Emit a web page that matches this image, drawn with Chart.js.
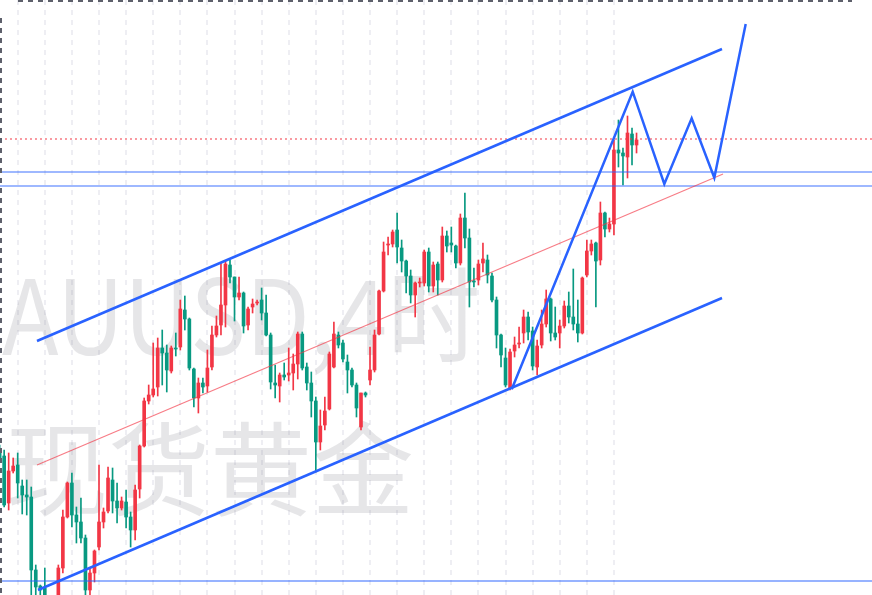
<!DOCTYPE html>
<html>
<head>
<meta charset="utf-8">
<script src="https://cdn.jsdelivr.net/npm/chart.js@4.4.1/dist/chart.umd.min.js"></script>
<style>
  html, body { margin: 0; padding: 0; background: #ffffff; }
  #wrap { width: 872px; height: 595px; position: relative; }
</style>
</head>
<body>
<div id="wrap"><canvas id="chart"></canvas></div>
<script>
// ── 4H candles (price units) ──
const candleOpen = [
  2409.6, 2408.8, 2399.4, 2405.8, 2407, 2402.8, 2401, 2400.6, 2386, 2382.8,
  2382.4, 2380, 2377.6, 2380, 2386.4, 2396.6, 2403.4, 2397, 2395.6, 2392.4,
  2382, 2385.4, 2390.6, 2395.6, 2397.8, 2404, 2399.8, 2398.4, 2399.6, 2396.6,
  2394, 2402.2, 2410.8, 2419.8, 2421, 2422.6, 2430.4, 2429.4, 2425.8, 2430.4,
  2430.6, 2438, 2436.2, 2426.2, 2420.4, 2423.4, 2422.8, 2426.6, 2433, 2435,
  2439, 2447, 2444.6, 2440.6, 2441.4, 2435, 2438.6, 2439.4, 2440, 2437.4,
  2433, 2423.4, 2422.8, 2425, 2425, 2425.4, 2427.2, 2433.2, 2426.6, 2423.4,
  2419.8, 2411.6, 2415, 2418.2, 2426.6, 2433, 2431.4, 2427.6, 2426, 2423,
  2414.6, 2421.4, 2424, 2426, 2433.2, 2441.8, 2451, 2451.2, 2454, 2450.4,
  2447.8, 2444.8, 2441, 2443.4, 2443.4, 2449.6, 2442.8, 2447.2, 2444, 2452.8,
  2451.4, 2450.8, 2447.4, 2456.4, 2452.4, 2443.8, 2444, 2447.4, 2448, 2444.8,
  2440, 2433, 2428.4, 2422.4, 2429.8, 2431.2, 2433.4, 2436.6, 2433.8, 2426.6,
  2431, 2435.2, 2440.2, 2433.4, 2433.4, 2434.8, 2438.8, 2436.6, 2435.2, 2433.4,
  2445, 2449.8, 2451.4, 2448, 2457.4, 2454.2, 2455.2, 2470, 2469.4, 2468.6,
  2473.2, 2471
];
const candleHigh = [
  2411, 2410, 2409.4, 2408.4, 2409.4, 2404, 2404, 2402.6, 2387, 2383,
  2386.4, 2380.8, 2380.4, 2387, 2398, 2403.6, 2405.4, 2398.6, 2400.4, 2393,
  2386.4, 2390, 2407, 2398.4, 2406.6, 2406.4, 2403.4, 2400.6, 2402, 2397.6,
  2403, 2411, 2420.4, 2423, 2431.4, 2432.4, 2434, 2431, 2430.8, 2433.4,
  2440, 2440.8, 2436.4, 2426.4, 2424.4, 2424.4, 2430, 2434.8, 2436.8, 2447.4,
  2447.8, 2448, 2444.6, 2444.6, 2441.6, 2438.6, 2440.2, 2440, 2442.4, 2441,
  2433.4, 2427, 2425.4, 2427.4, 2430.4, 2429.2, 2433.6, 2433.6, 2427.4, 2425.6,
  2420.6, 2418, 2420.6, 2429.6, 2435.6, 2433.6, 2432, 2429, 2426.4, 2423.4,
  2421.4, 2421.6, 2430.6, 2434, 2442, 2451.6, 2452.6, 2454, 2457.4, 2452,
  2448, 2446, 2443.6, 2444.4, 2450, 2450.4, 2447.6, 2447.6, 2454.6, 2453.8,
  2454.6, 2451, 2457.2, 2461.4, 2454.2, 2446.4, 2448, 2451.4, 2449, 2445.4,
  2440.6, 2433.2, 2430.4, 2430.2, 2432.6, 2434.6, 2438, 2437.6, 2434.6, 2432,
  2438, 2442, 2440.4, 2438.6, 2436, 2439.8, 2441.6, 2446.2, 2440, 2444.6,
  2452, 2452, 2451.6, 2459.6, 2457.6, 2456.4, 2472, 2476, 2470.4, 2476.8,
  2474.4, 2473.4
];
const candleLow = [
  2407.6, 2398.6, 2398, 2405.4, 2400.4, 2397.2, 2397, 2380, 2380, 2380.4,
  2379, 2376.8, 2376, 2379, 2385.4, 2396.4, 2394.6, 2391.4, 2391.4, 2380.4,
  2380.4, 2383.6, 2390, 2394.4, 2397.4, 2397.4, 2395.4, 2398, 2394.4, 2390.6,
  2392, 2400.4, 2410.6, 2419.2, 2420.6, 2420.8, 2423, 2421.6, 2425.4, 2428.8,
  2430, 2434, 2426, 2418.6, 2417.4, 2421.4, 2421.6, 2426, 2432.6, 2433,
  2434.6, 2443.4, 2435.8, 2440, 2433.4, 2434, 2437.4, 2439, 2436, 2432.8,
  2422.2, 2420.4, 2419.6, 2424, 2423.8, 2422, 2424.2, 2426, 2422, 2416.6,
  2405.6, 2410, 2414, 2418, 2426.4, 2430.4, 2427.6, 2421.4, 2422.6, 2416.6,
  2414, 2420.6, 2423, 2425.6, 2433, 2441.6, 2449, 2450.6, 2447.4, 2445.6,
  2441.4, 2439.4, 2436.6, 2442.6, 2442.8, 2441.6, 2441.6, 2441, 2443.6, 2449.6,
  2449.6, 2446.4, 2447, 2450.4, 2438.6, 2442.6, 2443, 2445.6, 2443.4, 2439.6,
  2430.4, 2426.6, 2422.6, 2422, 2428.6, 2430.4, 2431.4, 2432, 2426, 2425,
  2430.4, 2434.6, 2431.8, 2432, 2430.4, 2434.4, 2435.4, 2434, 2431.6, 2433.2,
  2444.6, 2449, 2438.6, 2447, 2452.6, 2453.6, 2453, 2466.6, 2463, 2464.4,
  2467, 2469.4
];
const candleClose = [
  2408, 2399, 2405.8, 2406.8, 2403.4, 2401, 2400.6, 2386, 2382.6, 2382,
  2380, 2377.6, 2380, 2386.4, 2396.6, 2403.4, 2397, 2395.6, 2392.4, 2382,
  2385.4, 2389.8, 2395.6, 2397.6, 2404.4, 2399.8, 2398.4, 2399.8, 2396.6, 2394,
  2402, 2410.8, 2419.8, 2421, 2422.2, 2430.4, 2429.4, 2426, 2430.4, 2430.2,
  2438.2, 2436.2, 2426.4, 2420.4, 2423.4, 2422.6, 2426.4, 2433, 2434.8, 2439,
  2447.2, 2444.6, 2440.6, 2441.4, 2434.8, 2438.2, 2439.2, 2439.6, 2437.4, 2433,
  2423.6, 2423, 2425, 2424.6, 2425.4, 2427.2, 2433.2, 2426.4, 2423.4, 2419.8,
  2411.6, 2414.8, 2417.8, 2429.2, 2433.2, 2431, 2428.2, 2426, 2423, 2418.4,
  2421.4, 2421, 2426, 2433, 2441.8, 2449.6, 2451.2, 2453.6, 2450.6, 2447.8,
  2444.8, 2441, 2443.4, 2443.6, 2449.6, 2442.8, 2447, 2444, 2452.8, 2450.8,
  2451, 2447.4, 2456.4, 2452.4, 2443.6, 2443.6, 2447.2, 2448.2, 2445, 2440,
  2433, 2429, 2423, 2429.6, 2431, 2431.4, 2436.6, 2433.6, 2426.8, 2430.8,
  2435.2, 2440.2, 2433.4, 2432.6, 2434.8, 2438.8, 2436.6, 2435.2, 2433.4, 2444.4,
  2449.8, 2451.2, 2447.8, 2457.4, 2454.2, 2455.2, 2470, 2469.4, 2468.8, 2473.4,
  2471, 2472
];

// ── drawn objects (x in bar index, y in price) ──
const upperChannelX = [8.27, 159.92];
const upperChannelY = [2431.8, 2490.2];
const lowerChannelX = [8.49, 159.92];
const lowerChannelY = [2382, 2440.4];
const midLineX = [8.27, 160.15];
const midLineY = [2407, 2465.2];
const zigzagX = [113.37, 140.15, 147.15, 153.21, 158.22, 165.17];
const zigzagY = [2422.14, 2481.66, 2463.2, 2476.34, 2464.46, 2495.2];
const lastPriceLevel = 2472.2;
const zoneLevels = [2465.6, 2462.8];
const floorLevel = 2383.8;
const dayStartBars = [4, 10, 16, 22, 28, 34, 40, 46, 52, 58, 64, 70, 76, 82, 88, 94, 100, 106, 112, 118, 124, 130, 136];

const X_MIN = 0.082, X_MAX = 193.13;
const Y_MIN = 2381, Y_MAX = 2500;

const UP = '#f23645', DOWN = '#089981', BLUE = '#2962ff';

const bars = candleOpen.map((_, i) => i);
const candleColor = bars.map(i => candleClose[i] >= candleOpen[i] ? UP : DOWN);

const toPoints = (xs, ys) => xs.map((x, k) => ({ x: x, y: ys[k] }));
const level = (y) => [{ x: X_MIN, y: y }, { x: X_MAX, y: y }];

function lineSet(data, color, width, dash) {
    return {
        type: 'line', data: data, borderColor: color, borderWidth: width,
        borderDash: dash || [], pointRadius: 0, tension: 0, fill: false, order: 0
    };
}

// ── background: day separators + watermark ──
const backdrop = {
    id: 'backdrop',
    beforeDatasetsDraw(chart) {
        const ctx = chart.ctx;
        const xs = chart.scales.x;
        ctx.save();
        ctx.strokeStyle = '#eeeef3';
        ctx.lineWidth = 2;
        ctx.setLineDash([5, 5]);
        dayStartBars.forEach(b => {
            const px = Math.round(xs.getPixelForValue(b));
            ctx.beginPath();
            ctx.moveTo(px, 0);
            ctx.lineTo(px, chart.height);
            ctx.stroke();
        });
        ctx.setLineDash([]);
        ctx.fillStyle = 'rgba(120,123,134,0.19)';
        ctx.textBaseline = 'alphabetic';
        // symbol line is a little condensed in the source
        ctx.save();
        ctx.translate(2, 355);
        ctx.scale(0.895, 1);
        ctx.font = '104px "Noto Sans CJK SC", "Noto Sans", sans-serif';
        ctx.fillText('AUUSD,4时', 0, 0);
        ctx.restore();
        ctx.font = '102px "Noto Sans CJK SC", sans-serif';
        ctx.fillText('现货黄金', 6, 508);
        ctx.restore();
    },
    afterDraw(chart) {
        const ctx = chart.ctx;
        ctx.save();
        ctx.strokeStyle = '#5d606b';
        ctx.lineWidth = 2;
        ctx.setLineDash([5, 5]);
        ctx.beginPath();
        ctx.moveTo(1, 18);
        ctx.lineTo(1, chart.height);
        ctx.moveTo(18, 1);
        ctx.lineTo(852, 1);
        ctx.stroke();
        ctx.restore();
    }
};

new Chart(document.getElementById('chart'), {
    type: 'bar',
    data: {
        datasets: [
            lineSet(toPoints(upperChannelX, upperChannelY), BLUE, 2.5),
            lineSet(toPoints(lowerChannelX, lowerChannelY), BLUE, 2.5),
            lineSet(toPoints(zigzagX, zigzagY), BLUE, 2.5),
            lineSet(toPoints(midLineX, midLineY), 'rgba(242,54,69,0.65)', 1.2),
            lineSet(level(lastPriceLevel), UP, 1.2, [2, 3]),
            lineSet(level(zoneLevels[0]), 'rgba(41,98,255,0.45)', 2),
            lineSet(level(zoneLevels[1]), 'rgba(41,98,255,0.45)', 2),
            lineSet(level(floorLevel), 'rgba(41,98,255,0.65)', 1.5),
            {
                label: 'bodies',
                data: bars.map(i => ({ x: i, y: [candleOpen[i], candleClose[i]] })),
                backgroundColor: candleColor,
                barThickness: 3,
                minBarLength: 1,
                grouped: false,
                order: 1
            },
            {
                label: 'wicks',
                data: bars.map(i => ({ x: i, y: [candleLow[i], candleHigh[i]] })),
                backgroundColor: candleColor,
                barThickness: 1,
                grouped: false,
                order: 2
            }
        ]
    },
    options: {
        responsive: true,
        maintainAspectRatio: false,
        animation: false,
        layout: { padding: 0 },
        plugins: { legend: { display: false }, tooltip: { enabled: false } },
        scales: {
            x: { type: 'linear', min: X_MIN, max: X_MAX, offset: false, display: false },
            y: { type: 'linear', min: Y_MIN, max: Y_MAX, display: false }
        }
    },
    plugins: [backdrop]
});
</script>
</body>
</html>
